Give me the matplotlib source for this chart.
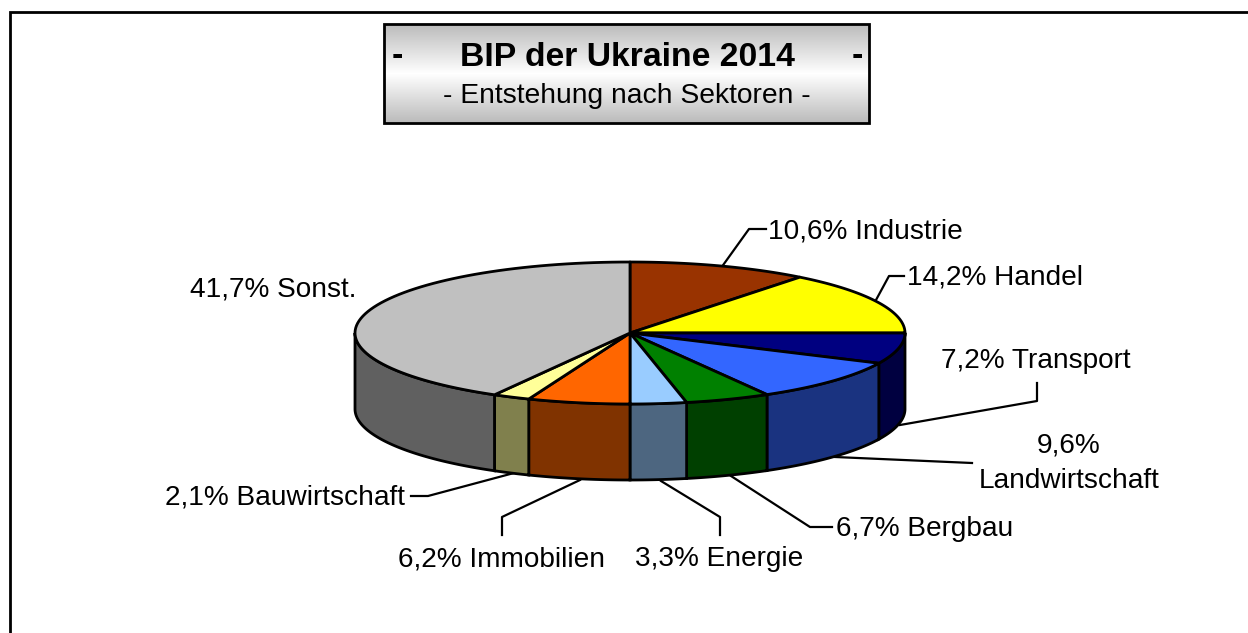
import numpy as np
import matplotlib
matplotlib.use("Agg")
import matplotlib.pyplot as plt
from matplotlib.colors import to_rgb
from matplotlib.patches import Polygon, Rectangle

#DATA
sectors = ["Industrie", "Handel", "Transport", "Landwirtschaft", "Bergbau",
           "Energie", "Immobilien", "Bauwirtschaft", "Sonst."]
label_pct = ["10,6%", "14,2%", "7,2%", "9,6%", "6,7%", "3,3%", "6,2%", "2,1%", "41,7%"]
# slice sizes as drawn in the picture, they differ a bit from the printed labels
drawn_share = [10.6, 14.4, 7.0, 9.7, 5.0, 3.3, 6.0, 2.2, 41.8]
colors = ["#993300", "#FFFF00", "#000080", "#3366FF", "#008000",
          "#99CCFF", "#FF6600", "#FFFF99", "#C0C0C0"]

title = "BIP der Ukraine 2014"
subtitle = "- Entstehung nach Sektoren -"

#LAYOUT (pixels)
cx, cy = 630, 333
rx, ry = 275, 71
depth = 76
lw = 2.0

plt.rcParams["font.family"] = ["Liberation Sans", "DejaVu Sans"]


def rim(a0, a1, dy=0):
    # angles in degrees, clockwise from 12 o'clock
    t = np.radians(np.linspace(a0, a1, 80))
    return np.column_stack((cx + rx * np.sin(t), cy - ry * np.cos(t) + dy))


fig = plt.figure(figsize=(12.48, 6.33), dpi=100)
ax = fig.add_axes([0, 0, 1, 1])
ax.set_xlim(0, 1248)
ax.set_ylim(633, 0)
ax.axis("off")

# outer frame, runs off the bottom and the right side
ax.plot([10, 10, 1260], [640, 12, 12], color="black", lw=2.0, solid_joinstyle="miter")

# title box with the gradient
grad = np.abs(np.linspace(-1, 1, 100)).reshape(-1, 1)
ax.imshow(1 - 0.27 * grad, cmap="gray", vmin=0, vmax=1, aspect="auto",
          extent=(384, 869, 123, 24), zorder=1)
ax.set_xlim(0, 1248)
ax.set_ylim(633, 0)
ax.add_patch(Rectangle((384, 24), 485, 99, fill=False, ec="black", lw=2.0, zorder=2))
ax.text(627, 57, title, fontsize=24.3, fontweight="bold", ha="center", va="center", zorder=3)
ax.text(397, 57, "-", fontsize=24.3, fontweight="bold", ha="center", va="center", zorder=3)
ax.text(857, 57, "-", fontsize=24.3, fontweight="bold", ha="center", va="center", zorder=3)
ax.text(627, 96, subtitle, fontsize=20.3, ha="center", va="center", zorder=3)

edges = np.cumsum([0] + drawn_share) / sum(drawn_share) * 360

# side walls first
for i in range(len(sectors)):
    a0 = max(edges[i], 90)
    a1 = min(edges[i + 1], 270)
    if a1 <= a0:
        continue
    pts = np.vstack((rim(a0, a1), rim(a0, a1, depth)[::-1]))
    wall = tuple(c * 0.5 for c in to_rgb(colors[i]))
    ax.add_patch(Polygon(pts, closed=True, fc=wall, ec="black", lw=lw, zorder=4))

# top of the pie
for i in range(len(sectors)):
    pts = np.vstack(([[cx, cy]], rim(edges[i], edges[i + 1])))
    ax.add_patch(Polygon(pts, closed=True, fc=colors[i], ec="black", lw=lw,
                         joinstyle="round", zorder=6))

# leader lines
leaders = [
    [(721, 268), (749, 229), (766, 229)],
    [(876, 300), (889, 276), (904, 276)],
    [(900, 425), (1037, 401), (1037, 383)],
    [(835, 457), (972, 463)],
    [(731, 476), (810, 527), (832, 527)],
    [(661, 481), (720, 517), (720, 535)],
    [(580, 480), (502, 517), (502, 535)],
    [(514, 473), (428, 496), (411, 496)],
]
for pts in leaders:
    xs, ys = zip(*pts)
    ax.plot(xs, ys, color="black", lw=1.6, zorder=3)

# labels
fs = 20.2
ax.text(768, 231, label_pct[0] + " " + sectors[0], fontsize=fs, va="center", ha="left")
ax.text(907, 277, label_pct[1] + " " + sectors[1], fontsize=fs, va="center", ha="left")
ax.text(941, 361, label_pct[2] + " " + sectors[2], fontsize=fs, va="center", ha="left")
ax.text(1069, 446, label_pct[3], fontsize=fs, va="center", ha="center")
ax.text(1069, 481, sectors[3], fontsize=fs, va="center", ha="center")
ax.text(836, 529, label_pct[4] + " " + sectors[4], fontsize=fs, va="center", ha="left")
ax.text(635, 559, label_pct[5] + " " + sectors[5], fontsize=fs, va="center", ha="left")
ax.text(398, 559, label_pct[6] + " " + sectors[6], fontsize=fs, va="center", ha="left")
ax.text(165, 497, label_pct[7] + " " + sectors[7], fontsize=fs, va="center", ha="left")
ax.text(190, 289, label_pct[8] + " " + sectors[8], fontsize=fs, va="center", ha="left")

fig.savefig("out.png", dpi=100)
